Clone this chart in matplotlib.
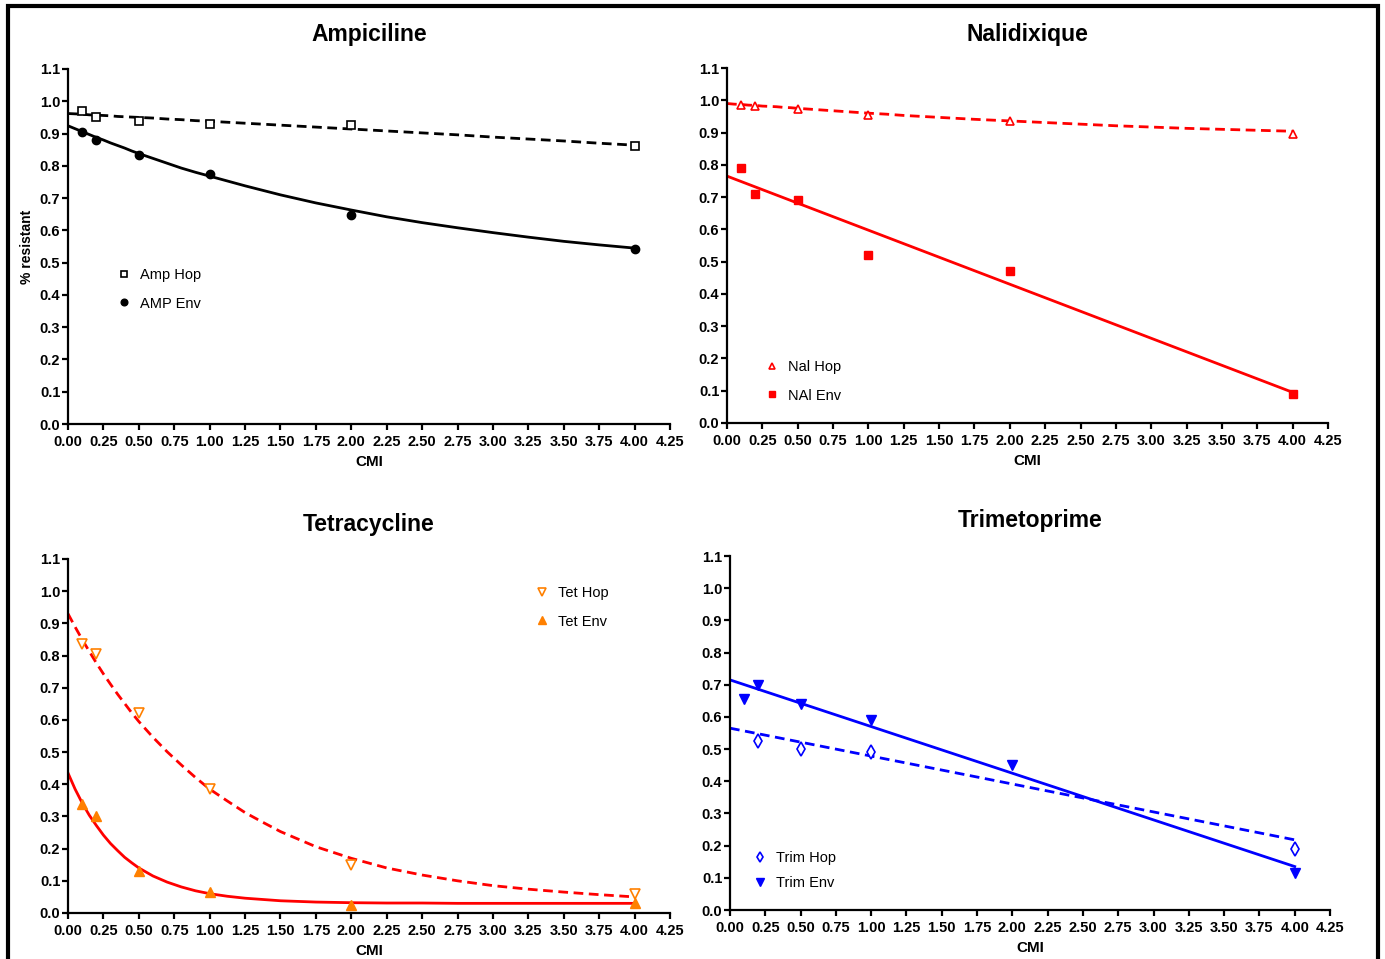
import matplotlib
matplotlib.use("Agg")
import matplotlib.pyplot as plt
from matplotlib.patches import Rectangle

plt.rcParams['font.family'] = ['Liberation Sans', 'DejaVu Sans']

# measured points (CMI concentrations)
x_pts = [0.1, 0.2, 0.5, 1.0, 2.0, 4.0]

amp_hop = [0.97, 0.95, 0.94, 0.93, 0.925, 0.86]
amp_env = [0.905, 0.88, 0.835, 0.775, 0.648, 0.543]
nal_hop = [0.985, 0.982, 0.972, 0.955, 0.935, 0.897]
nal_env = [0.79, 0.71, 0.69, 0.52, 0.47, 0.09]
tet_hop = [0.835, 0.805, 0.62, 0.385, 0.15, 0.06]
tet_env = [0.34, 0.30, 0.13, 0.065, 0.025, 0.03]
trim_hop_x = [0.2, 0.5, 1.0, 4.0]
trim_hop = [0.525, 0.50, 0.49, 0.19]
trim_env = [0.655, 0.70, 0.64, 0.59, 0.45, 0.115]

# fitted curves
fit_x = [0, 0.05, 0.1, 0.15, 0.2, 0.25, 0.3, 0.35, 0.4, 0.45, 0.5, 0.6, 0.7, 0.8, 0.9, 1.0,
         1.125, 1.25, 1.375, 1.5, 1.75, 2.0, 2.25, 2.5, 2.75, 3.0, 3.25, 3.5, 3.75, 4.0]
amp_hop_fit = [0.962, 0.961, 0.960, 0.958, 0.957, 0.956, 0.955, 0.953, 0.952, 0.951,
               0.950, 0.948, 0.945, 0.943, 0.940, 0.938, 0.935, 0.932, 0.929, 0.926,
               0.920, 0.914, 0.908, 0.902, 0.896, 0.889, 0.883, 0.877, 0.870, 0.864]
amp_env_fit = [0.924, 0.915, 0.906, 0.897, 0.888, 0.880, 0.871, 0.863, 0.855, 0.846,
               0.838, 0.823, 0.808, 0.793, 0.780, 0.768, 0.753, 0.738, 0.724, 0.710,
               0.685, 0.663, 0.642, 0.624, 0.608, 0.593, 0.579, 0.566, 0.555, 0.545]
nal_hop_fit = [0.990, 0.988, 0.987, 0.985, 0.984, 0.982, 0.981, 0.980, 0.978, 0.977,
               0.975, 0.972, 0.969, 0.966, 0.963, 0.960, 0.957, 0.953, 0.950, 0.947,
               0.941, 0.936, 0.931, 0.926, 0.921, 0.917, 0.913, 0.910, 0.907, 0.904]
tet_hop_fit = [0.930, 0.889, 0.850, 0.813, 0.777, 0.743, 0.711, 0.680, 0.651, 0.622,
               0.595, 0.546, 0.501, 0.460, 0.421, 0.385, 0.348, 0.312, 0.282, 0.253,
               0.206, 0.170, 0.140, 0.118, 0.100, 0.085, 0.074, 0.065, 0.057, 0.050]
tet_env_fit = [0.435, 0.385, 0.342, 0.304, 0.272, 0.242, 0.216, 0.194, 0.173, 0.156,
               0.140, 0.115, 0.096, 0.081, 0.069, 0.060, 0.052, 0.046, 0.042, 0.038,
               0.034, 0.032, 0.031, 0.031, 0.030, 0.030, 0.030, 0.030, 0.030, 0.030]
line_x = [0, 4.0]
nal_env_fit = [0.765, 0.095]
trim_hop_fit = [0.565, 0.218]
trim_env_fit = [0.715, 0.135]

x_ticks = [0, 0.25, 0.5, 0.75, 1.0, 1.25, 1.5, 1.75, 2.0, 2.25, 2.5, 2.75, 3.0, 3.25, 3.5, 3.75, 4.0, 4.25]
y_ticks = [0.0, 0.1, 0.2, 0.3, 0.4, 0.5, 0.6, 0.7, 0.8, 0.9, 1.0, 1.1]

W, H = 1385, 959
fig = plt.figure(figsize=(13.85, 9.59), dpi=100)

# black frame around the figure
fig.patches.append(Rectangle((8 / W, -0.05), 1370 / W, 1 - 6 / H + 0.05,
                             transform=fig.transFigure, fill=False,
                             edgecolor='black', linewidth=3))

dash = (3.5, 2)
tick_font = ['Liberation Sans Narrow', 'Liberation Sans', 'DejaVu Sans']


def make_ax(left, bottom, right, top, title, title_y):
    ax = fig.add_axes([left / W, 1 - bottom / H, (right - left) / W, (bottom - top) / H])
    ax.set_xlim(0, 4.25)
    ax.set_ylim(0, 1.1)
    ax.set_xticks(x_ticks)
    ax.set_xticklabels(['%.2f' % v for v in x_ticks])
    ax.set_yticks(y_ticks)
    ax.set_yticklabels(['%.1f' % v for v in y_ticks])
    for s in ['top', 'right']:
        ax.spines[s].set_visible(False)
    for s in ['left', 'bottom']:
        ax.spines[s].set_linewidth(1.6)
    ax.tick_params(direction='out', length=4, width=1.6, pad=4,
                   labelsize=10.5)
    ax.tick_params(axis='y', pad=1.5)
    for lab in ax.get_xticklabels() + ax.get_yticklabels():
        lab.set_fontweight('bold')
        lab.set_family(tick_font)
    ax.set_xlabel('CMI', fontsize=11, fontweight='bold', labelpad=4)
    fig.text((left + right) / 2 / W, 1 - title_y / H, title, ha='center', va='center',
             fontsize=16.5, fontweight='bold')
    return ax


def add_legend(ax, x, y, spacing=1.0):
    ax.legend(loc='upper left', bbox_to_anchor=(x / W, 1 - y / H),
              bbox_transform=fig.transFigure, frameon=False, fontsize=10.5,
              handlelength=1.0, handletextpad=0.6, labelspacing=spacing,
              borderpad=0, borderaxespad=0, markerscale=0.8)


# Ampiciline
ax1 = make_ax(68, 424, 670, 69, 'Ampiciline', 35)
ax1.plot(fit_x, amp_hop_fit, color='black', lw=2, dashes=dash)
ax1.plot(fit_x, amp_env_fit, color='black', lw=2)
ax1.plot(x_pts, amp_hop, 's', mfc='white', mec='black', ms=6, mew=1.2, ls='none', label='Amp Hop')
ax1.plot(x_pts, amp_env, 'o', color='black', ms=6, ls='none', label='AMP Env')
ax1.set_ylabel('% resistant', fontsize=10, fontweight='bold', labelpad=4)
add_legend(ax1, 117, 268)

# Nalidixique
ax2 = make_ax(727, 423, 1328, 68, 'Nalidixique', 34)
ax2.plot(fit_x, nal_hop_fit, color='red', lw=2, dashes=dash)
ax2.plot(line_x, nal_env_fit, color='red', lw=2)
ax2.plot(x_pts, nal_hop, '^', mfc='white', mec='red', ms=6, mew=1.2, ls='none', label='Nal Hop')
ax2.plot(x_pts, nal_env, 's', color='red', ms=6, ls='none', label='NAl Env')
add_legend(ax2, 765, 360)

# Tetracycline
ax3 = make_ax(68, 913, 670, 559, 'Tetracycline', 525)
ax3.plot(fit_x, tet_hop_fit, color='red', lw=2, dashes=dash)
ax3.plot(fit_x, tet_env_fit, color='red', lw=2)
ax3.plot(x_pts, tet_hop, 'v', mfc='white', mec='#ff8000', ms=7, mew=1.2, ls='none', label='Tet Hop')
ax3.plot(x_pts, tet_env, '^', color='#ff8000', ms=7, ls='none', label='Tet Env')
add_legend(ax3, 535, 586)

# Trimetoprime
ax4 = make_ax(730, 910, 1330, 556, 'Trimetoprime', 521)
ax4.plot(line_x, trim_hop_fit, color='blue', lw=2, dashes=dash)
ax4.plot(line_x, trim_env_fit, color='blue', lw=2)
ax4.plot(trim_hop_x, trim_hop, 'd', mfc='white', mec='blue', ms=7, mew=1.2, ls='none', label='Trim Hop')
ax4.plot(x_pts, trim_env, 'v', color='blue', ms=7, ls='none', label='Trim Env')
add_legend(ax4, 753, 851, spacing=0.75)

fig.savefig('out.png', dpi=100)
